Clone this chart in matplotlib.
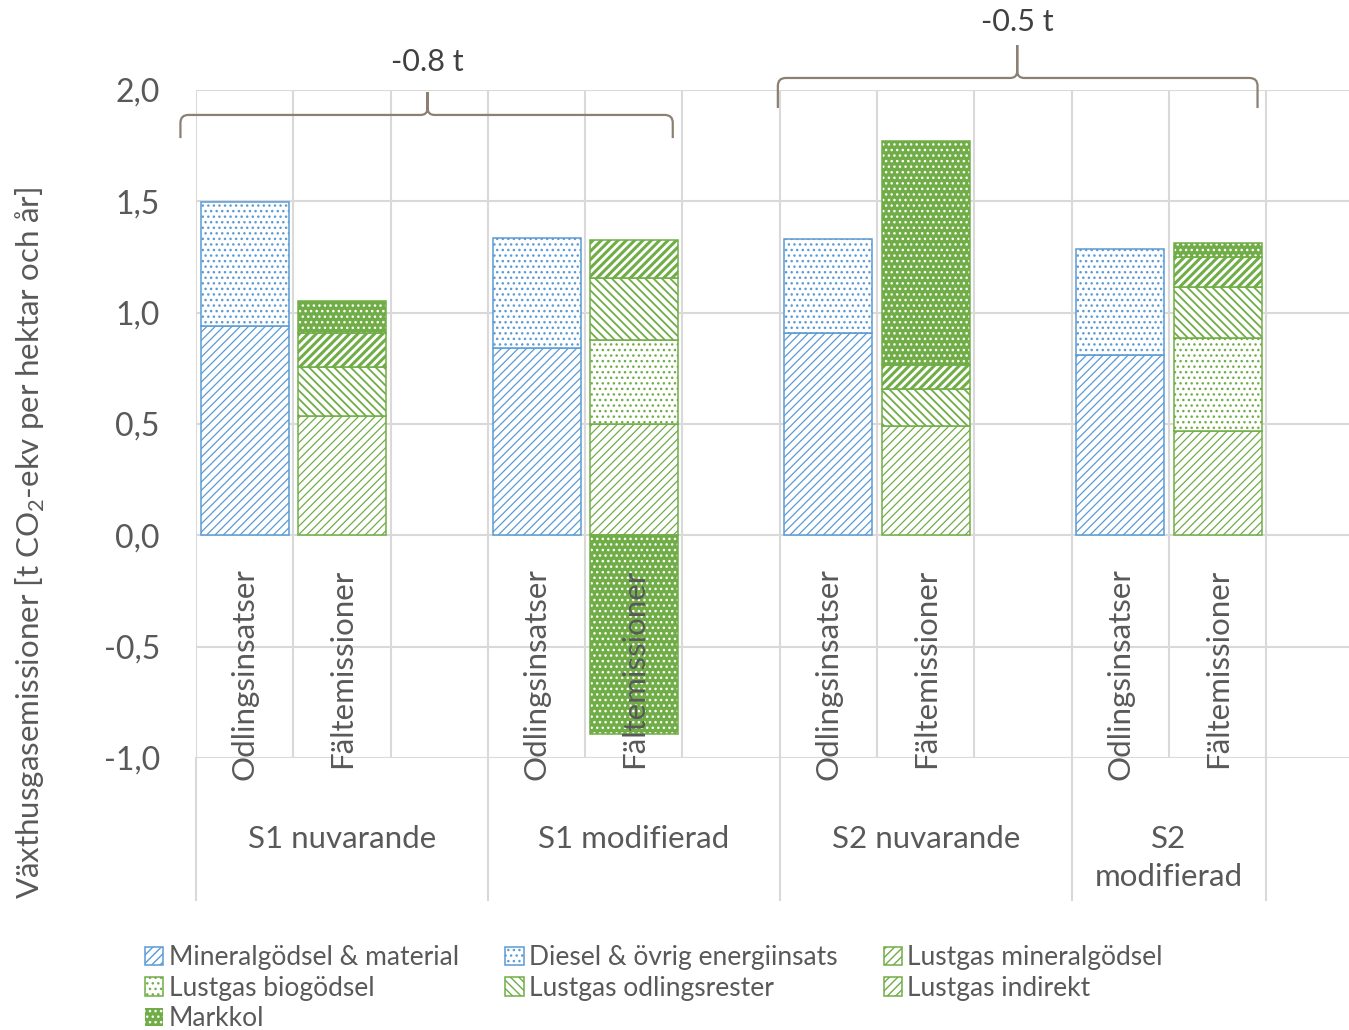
import matplotlib
matplotlib.use("Agg")
import matplotlib.pyplot as plt
from matplotlib.path import Path
from matplotlib.patches import PathPatch, Patch
import numpy as np

# ---- data -------------------------------------------------------------
groups = ["S1 nuvarande", "S1 modifierad", "S2 nuvarande", "S2\nmodifierad"]
bar_labels = ["Odlingsinsatser", "Fältemissioner"]

# Odlingsinsatser
mineralgodsel_material = [0.94, 0.84, 0.91, 0.81]
diesel_energi = [0.555, 0.495, 0.42, 0.475]
# Fältemissioner
lustgas_mineralgodsel = [0.535, 0.50, 0.49, 0.467]
lustgas_biogodsel = [0.0, 0.378, 0.0, 0.42]
lustgas_odlingsrester = [0.22, 0.277, 0.165, 0.229]
lustgas_indirekt = [0.153, 0.172, 0.109, 0.135]
markkol = [0.145, -0.894, 1.007, 0.06]

brace_labels = ["-0.8 t", "-0.5 t"]
y_ticks = [-1.0, -0.5, 0.0, 0.5, 1.0, 1.5, 2.0]

# ---- style ------------------------------------------------------------
BLUE = "#5B9BD5"
GREEN = "#70AD47"
GRID = "#D9D9D9"
TEXT = "#595959"
BRACE = "#8C8073"
FONT = "Lato"
plt.rcParams["font.family"] = [FONT, "DejaVu Sans"]
plt.rcParams["mathtext.fontset"] = "custom"
plt.rcParams["mathtext.rm"] = FONT
plt.rcParams["hatch.linewidth"] = 1.0

W = 0.905
EDGE_LW = 1.1

fig = plt.figure(figsize=(13.49, 10.30), dpi=100)
ax = fig.add_axes([196 / 1349, 1 - 758 / 1030, 1 - 196 / 1349, (758 - 90) / 1030])
ax.set_xlim(-0.5, 11.35)
ax.set_ylim(-1.0, 2.0)

n_slots = 3 * len(groups) - 1
odl_x = np.array([3 * g for g in range(len(groups))])
falt_x = odl_x + 1


def segment(x, bottom, height, color, hatch, filled=False, hatch_lw=None):
    if filled:
        bars = ax.bar(x, height, W, bottom, color=color, edgecolor="white",
                      hatch=hatch, linewidth=0, zorder=3)
        ax.bar(x, height, W, bottom, fill=False, edgecolor=color,
               linewidth=EDGE_LW, zorder=4)
    else:
        bars = ax.bar(x, height, W, bottom, facecolor="white", edgecolor=color,
                      hatch=hatch, linewidth=EDGE_LW, zorder=3)
    if hatch_lw is not None:
        for b in bars:
            if hasattr(b, "set_hatch_linewidth"):
                b.set_hatch_linewidth(hatch_lw)
    return bars


series = [
    ("Mineralgödsel & material", mineralgodsel_material, odl_x, BLUE, "////", False, 0.9),
    ("Diesel & övrig energiinsats", diesel_energi, odl_x, BLUE, "...", False, None),
    ("Lustgas mineralgödsel", lustgas_mineralgodsel, falt_x, GREEN, "////", False, 0.9),
    ("Lustgas biogödsel", lustgas_biogodsel, falt_x, GREEN, "...", False, None),
    ("Lustgas odlingsrester", lustgas_odlingsrester, falt_x, GREEN, "\\\\\\\\", False, 1.3),
    ("Lustgas indirekt", lustgas_indirekt, falt_x, GREEN, "////", False, 2.2),
    ("Markkol", markkol, falt_x, GREEN, "...", True, None),
]

pos_base = {"odl": np.zeros(len(groups)), "falt": np.zeros(len(groups))}
neg_base = {"odl": np.zeros(len(groups)), "falt": np.zeros(len(groups))}
handles = []
for name, vals, xs, color, hatch, filled, hlw in series:
    key = "odl" if xs is odl_x else "falt"
    vals = np.asarray(vals, dtype=float)
    for i, v in enumerate(vals):
        if v == 0:
            continue
        if v > 0:
            segment(xs[i], pos_base[key][i], v, color, hatch, filled, hlw)
            pos_base[key][i] += v
        else:
            segment(xs[i], neg_base[key][i], v, color, hatch, filled, hlw)
            neg_base[key][i] += v
    if filled:
        h = Patch(facecolor=color, edgecolor="white", hatch=hatch, linewidth=0)
    else:
        h = Patch(facecolor="white", edgecolor=color, hatch=hatch, linewidth=EDGE_LW)
    if hlw is not None and hasattr(h, "set_hatch_linewidth"):
        h.set_hatch_linewidth(hlw)
    handles.append((h, name))

# ---- grid ---------------------------------------------------------------
for s in ax.spines.values():
    s.set_visible(False)
ax.set_yticks(y_ticks)
ax.set_yticklabels([f"{t:.1f}".replace(".", ",") for t in y_ticks])
ax.tick_params(axis="y", length=0, pad=26, labelsize=23, labelcolor=TEXT)
ax.set_xticks([])
ax.grid(False)
for t in y_ticks:
    ax.axhline(t, color=GRID, lw=1.5, zorder=1)
for b in np.arange(-0.5, n_slots + 0.5, 1.0):
    ax.axvline(b, color=GRID, lw=1.5, zorder=1)

# multi-level category axis below the plot
xt = ax.get_xaxis_transform()
group_edges = [-0.5, 2.5, 5.5, 8.5, n_slots - 0.5]
for b in group_edges:
    ax.plot([b, b], [0, -0.2126], transform=xt, color=GRID, lw=1.5, clip_on=False)

for g in range(len(groups)):
    for j, lab in enumerate(bar_labels):
        ax.text(3 * g + j, -0.148, lab, rotation=90, ha="center", va="top",
                fontsize=22.5, color=TEXT, zorder=5)
    center = (group_edges[g] + group_edges[g + 1]) / 2
    ax.text(center, -0.1, groups[g], transform=xt, ha="center", va="top",
            fontsize=22.5, color=TEXT, linespacing=1.45)

fig.text(30 / 1349, 1 - 543 / 1030,
         "Växthusgasemissioner [t CO$_\\mathrm{2}$-ekv per hektar och år]",
         rotation=90, ha="center", va="center", fontsize=22.5, color=TEXT)

# ---- braces -------------------------------------------------------------
fig.canvas.draw()
p0 = ax.transData.transform((0, 0))
px_x = ax.transData.transform((1, 0))[0] - p0[0]
px_y = ax.transData.transform((0, 1))[1] - p0[1]


def brace(x0, x1, xm, y_line, y_end, y_tip, label, y_label):
    rx, ry = 8 / px_x, 8 / px_y
    tx, ty = 7 / px_x, 7 / px_y
    verts, codes = [], []
    for xe, sgn in ((x0, 1), (x1, -1)):
        verts += [(xe, y_end), (xe, y_line - ry), (xe, y_line), (xe + sgn * rx, y_line),
                  (xm - sgn * tx, y_line), (xm, y_line), (xm, y_line + ty), (xm, y_tip)]
        codes += [Path.MOVETO, Path.LINETO, Path.CURVE3, Path.CURVE3,
                  Path.LINETO, Path.CURVE3, Path.CURVE3, Path.LINETO]
    ax.add_patch(PathPatch(Path(verts, codes), fill=False, edgecolor=BRACE,
                           lw=1.6, clip_on=False, zorder=6))
    ax.text(xm, y_label, label, ha="center", va="center", fontsize=22,
            color="#404040", clip_on=False)


brace(-0.66, 4.40, 1.88, 1.888, 1.784, 1.991, brace_labels[0], 2.126)
brace(5.48, 10.41, 7.94, 2.054, 1.919, 2.202, brace_labels[1], 2.306)

# ---- legend -------------------------------------------------------------
order = [0, 3, 6, 1, 4, 2, 5]
leg = fig.legend([handles[i][0] for i in order], [handles[i][1] for i in order],
                 loc="upper left", bbox_to_anchor=(145 / 1349, 1 - 945 / 1030),
                 ncol=3, frameon=False, fontsize=19, handlelength=0.7,
                 handleheight=0.7, handletextpad=0.2, columnspacing=1.75,
                 labelspacing=0.21, borderaxespad=0, borderpad=0)
for t in leg.get_texts():
    t.set_color(TEXT)

fig.savefig("out.png", dpi=100)
